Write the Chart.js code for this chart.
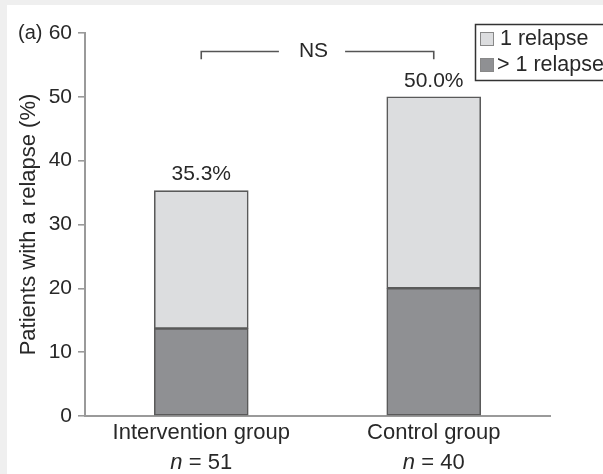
<!DOCTYPE html>
<html>
<head>
<meta charset="utf-8">
<script src="https://cdn.jsdelivr.net/npm/chart.js@4/dist/chart.umd.min.js"></script>
<style>
  html, body { margin: 0; padding: 0; background: #efefef; width: 603px; height: 474px; overflow: hidden; }
  #panel { position: absolute; left: 7px; top: 5px; width: 596px; height: 469px; background: #ffffff; }
  #chart { display: block; }
</style>
</head>
<body>
<div id="panel"><canvas id="chart" width="596" height="469"></canvas></div>
<script>
// Relapse rates by study group (% of patients)
const categories = ['Intervention group', 'Control group'];
const groupSizes = [51, 40];
const multiRelapse = [13.7, 20.0];   // > 1 relapse
const singleRelapse = [21.6, 30.0];  // 1 relapse
const yTicks = [0, 10, 20, 30, 40, 50, 60];
const significance = 'NS';
const panelTag = '(a)';

const FONT = 'Liberation Sans, Arial, Helvetica, sans-serif';
const TEXT = '#282828';
const AXIS = '#9a9a9a';
const EDGE = '#5a5a5a';
const LIGHT = '#dcdddf';
const DARK = '#8f9093';

const annotations = {
  id: 'annotations',
  afterDatasetsDraw(chart) {
    const ctx = chart.ctx;
    const x = chart.scales.x, y = chart.scales.y;
    ctx.save();
    ctx.fillStyle = TEXT;
    ctx.font = '21px ' + FONT;
    ctx.textBaseline = 'middle';

    // totals above each stacked bar
    ctx.textAlign = 'center';
    categories.forEach((c, i) => {
      const total = multiRelapse[i] + singleRelapse[i];
      ctx.fillText(total.toFixed(1) + '%', x.getPixelForValue(i), y.getPixelForValue(total) - 16);
    });

    // group sizes under category names, italic n
    categories.forEach((c, i) => {
      const cx = x.getPixelForValue(i);
      const rest = ' = ' + groupSizes[i];
      ctx.font = 'italic 22px ' + FONT;
      const wn = ctx.measureText('n').width;
      ctx.font = '22px ' + FONT;
      const wr = ctx.measureText(rest).width;
      const x0 = cx - (wn + wr) / 2;
      const ty = 458;
      ctx.textAlign = 'left';
      ctx.font = 'italic 22px ' + FONT;
      ctx.fillText('n', x0, ty);
      ctx.font = '22px ' + FONT;
      ctx.fillText(rest, x0 + wn, ty);
    });

    // significance bracket
    const xl = x.getPixelForValue(0), xr = x.getPixelForValue(1);
    const yTop = y.getPixelForValue(57.1), yEnd = y.getPixelForValue(55.9);
    const nsX = (xl + xr) / 2 - 4;
    ctx.font = '21px ' + FONT;
    const nsW = ctx.measureText(significance).width;
    ctx.textAlign = 'center';
    ctx.fillText(significance, nsX, yTop);
    ctx.strokeStyle = '#555555';
    ctx.lineWidth = 1.6;
    ctx.beginPath();
    ctx.moveTo(xl, yEnd);
    ctx.lineTo(xl, yTop);
    ctx.lineTo(nsX - nsW / 2 - 20, yTop);
    ctx.moveTo(nsX + nsW / 2 + 17, yTop);
    ctx.lineTo(xr, yTop);
    ctx.lineTo(xr, yEnd);
    ctx.stroke();

    // panel tag next to the top tick
    ctx.font = '20px ' + FONT;
    ctx.textAlign = 'left';
    ctx.fillStyle = TEXT;
    ctx.fillText(panelTag, 11, y.getPixelForValue(60));

    // legend box
    ctx.strokeStyle = '#333333';
    ctx.lineWidth = 1.5;
    ctx.strokeRect(468.5, 19.5, 140, 56);
    const items = [chart.data.datasets[1], chart.data.datasets[0]];
    const rows = [34, 60];
    const textX = [493, 490];
    items.forEach((ds, k) => {
      ctx.fillStyle = ds.backgroundColor;
      ctx.fillRect(473, rows[k] - 7, 14, 14);
      ctx.strokeStyle = '#888888';
      ctx.lineWidth = 1;
      ctx.strokeRect(473.5, rows[k] - 6.5, 13, 13);
      ctx.fillStyle = TEXT;
      ctx.font = '21.5px ' + FONT;
      ctx.textAlign = 'left';
      ctx.fillText(ds.label, textX[k], rows[k]);
    });
    ctx.restore();
  }
};

new Chart(document.getElementById('chart'), {
  type: 'bar',
  data: {
    labels: categories,
    datasets: [
      { label: '> 1 relapse', data: multiRelapse, backgroundColor: DARK, borderColor: EDGE, borderWidth: 1.6, borderSkipped: false, barThickness: 94 },
      { label: '1 relapse', data: singleRelapse, backgroundColor: LIGHT, borderColor: EDGE, borderWidth: 1.6, borderSkipped: false, barThickness: 94 }
    ]
  },
  options: {
    responsive: false,
    animation: false,
    devicePixelRatio: 1,
    layout: { autoPadding: false, padding: { top: 28, right: 53, bottom: 0, left: 0 } },
    plugins: { legend: { display: false }, tooltip: { enabled: false } },
    scales: {
      x: {
        stacked: true,
        offset: true,
        grid: { drawOnChartArea: false, drawTicks: false },
        border: { color: AXIS, width: 2 },
        ticks: { font: { family: FONT, size: 22 }, color: TEXT, padding: 4, maxRotation: 0, autoSkip: false },
        afterFit: s => { s.height = 58; }
      },
      y: {
        stacked: true,
        min: 0,
        max: 60,
        afterBuildTicks: s => { s.ticks = yTicks.map(v => ({ value: v })); },
        ticks: { font: { family: FONT, size: 21 }, color: TEXT, padding: 6 },
        grid: { drawOnChartArea: false, tickLength: 7, color: AXIS, lineWidth: 1.6 },
        border: { color: AXIS, width: 2 },
        title: { display: true, text: 'Patients with a relapse (%)', font: { family: FONT, size: 22 }, color: TEXT, padding: { top: 9, bottom: 0 } },
        afterFit: s => { s.width = 78; }
      }
    }
  },
  plugins: [annotations]
});
</script>
</body>
</html>
